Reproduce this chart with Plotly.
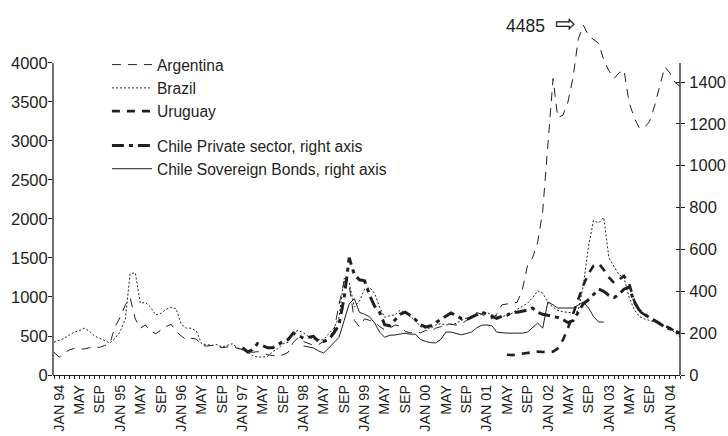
import plotly.graph_objects as go
import pandas as pd

# ---------------- data (monthly, bps) ----------------
main_start = "1993-12-01"
argentina = [290, 230, 280, 320, 340, 330, 335, 350, 355, 355, 380, 410, 620,
             740, 900, 990, 720, 600, 640, 560, 530, 580, 620, 650, 560,
             500, 450, 470, 460, 380, 370, 380, 370, 350, 360, 370, 340,
             330, 300, 290, 300, 280, 260, 250, 245, 260, 290, 420, 480,
             430, 400, 380, 390, 430, 500, 560, 900, 1200, 1150, 700, 620,
             720, 700, 680, 620, 580, 600, 640, 630, 560, 540, 560, 540,
             570, 560, 600, 620, 660, 650, 640, 650, 700, 760, 800, 780,
             740, 720, 780, 900, 910, 920, 930, 1090, 1400, 1500, 1700, 2100,
             2900, 3800, 3300, 3330, 3500, 3820, 4300, 4485, 4350, 4300, 4250, 4040,
             3900, 3800, 3870, 3910, 3500, 3300, 3170, 3170, 3250, 3450, 3700, 3950,
             3870, 3750, 3700]
brazil = [420, 440, 470, 510, 550, 570, 600, 560, 500, 470, 440, 410, 470,
          560, 720, 1300, 1310, 920, 930, 870, 770, 790, 840, 870, 850,
          650, 600, 600, 560, 400, 390, 380, 390, 360, 380, 400, 350,
          320, 290, 250, 230, 230, 240, 300, 340, 400, 420, 550, 570,
          540, 490, 460, 450, 450, 530, 600, 740, 1240, 1190, 870, 950,
          1100, 1120, 1050, 870, 740, 760, 770, 830, 800, 750, 700, 620,
          600, 600, 640, 660, 640, 650, 660, 700, 730, 740, 760, 770,
          800, 770, 760, 745, 770, 790, 840, 880, 920, 990, 1080, 1050,
          930, 870, 830, 810, 800, 795, 820, 1150, 1650, 1980, 1950, 2020,
          1500, 1380, 1290, 1250, 1000, 840, 750, 720, 700, 690, 660, 620,
          600, 540, 490]
uruguay_start = "2001-05-01"
uruguay = [260, 255, 265, 275, 290, 295, 300, 295, 295, 300, 340, 450, 600,
           780, 950, 1150, 1300, 1400, 1430, 1350, 1250, 1180, 1220, 1270, 1180,
           950, 820, 770, 730, 700, 660, 630, 600, 560, 520]
chile_private_start = "1997-01-01"
chile_private = [130, 110, 120, 150, 140, 130, 130, 145, 160, 170,
                 200, 190, 175, 180, 185, 160, 160, 170, 200, 240,
                 370, 560, 480, 455, 450, 380, 330, 300, 240, 235,
                 260, 290, 300, 285, 265, 240, 230, 235, 250, 265,
                 280, 296, 285, 270, 265, 277, 290, 300, 290, 280,
                 270, 280, 285, 300, 300, 305, 310, 320, 300, 290,
                 285, 280, 275, 265, 250, 260, 300, 340, 360, 385,
                 410, 400, 380, 370, 385, 410, 420, 350, 310, 290,
                 275, 260, 245, 230, 220, 210, 200]
chile_sov_start = "1998-01-01"
chile_sov = [139, 135, 129, 115, 105, 129, 153, 180, 260, 340, 365, 300,
             290, 277, 250, 205, 180, 190, 191, 195, 200, 195, 195, 170,
             160, 155, 153, 170, 205, 205, 198, 192, 198, 205, 225, 238,
             239, 235, 205, 201, 200, 200, 200, 200, 205, 225, 248, 224,
             349, 335, 320, 320, 320, 320, 334, 349, 320, 280, 253, 253]

left_ticks = [0, 500, 1000, 1500, 2000, 2500, 3000, 3500, 4000]
right_ticks = [0, 200, 400, 600, 800, 1000, 1200, 1400]
peak_value_text = "4485"


def months(start, n):
    return pd.date_range(start, periods=n, freq="MS")


INK = "#231f20"
FONT = "Liberation Sans, Arial, Helvetica, sans-serif"
LEFT_RANGE = [0, 4679]
RIGHT_RANGE = [0, 1744]

fig = go.Figure()
fig.add_trace(go.Scatter(x=months(main_start, len(argentina)), y=argentina, name="Argentina",
                         mode="lines", line=dict(color=INK, width=1, dash="9px,7px"),
                         legendgroup="a"))
fig.add_trace(go.Scatter(x=months(main_start, len(brazil)), y=brazil, name="Brazil",
                         mode="lines", line=dict(color=INK, width=1, dash="2px,2px"),
                         legendgroup="a"))
fig.add_trace(go.Scatter(x=months(uruguay_start, len(uruguay)), y=uruguay, name="Uruguay",
                         mode="lines", line=dict(color=INK, width=2.6, dash="8px,7px"),
                         legendgroup="a"))
fig.add_trace(go.Scatter(x=months(chile_private_start, len(chile_private)), y=chile_private,
                         name="Chile Private sector, right axis", yaxis="y2",
                         mode="lines", line=dict(color=INK, width=3, dash="12px,5px,4px,5px"),
                         legendgroup="b"))
fig.add_trace(go.Scatter(x=months(chile_sov_start, len(chile_sov)), y=chile_sov,
                         name="Chile Sovereign Bonds, right axis", yaxis="y2",
                         mode="lines", line=dict(color=INK, width=1),
                         legendgroup="b"))
# empty helper traces: inner half of crossing right ticks, and full-length left ticks
fig.add_trace(go.Scatter(x=[], y=[], yaxis="y3", showlegend=False, hoverinfo="skip"))
fig.add_trace(go.Scatter(x=[], y=[], yaxis="y4", showlegend=False, hoverinfo="skip"))

# x tick labels
tick_dates = pd.date_range("1994-01-01", "2004-01-01", freq="4MS")
tick_text = [("JAN %02d" % (d.year % 100)) if d.month == 1 else d.strftime("%b").upper()
             for d in tick_dates]

peak_idx = argentina.index(max(argentina))
peak_date = months(main_start, len(argentina))[peak_idx]

fig.add_annotation(x=peak_date, y=max(argentina),
                   text=peak_value_text + "  <span style='font-size:25px'>⇨</span>",
                   showarrow=False, xanchor="right", yanchor="middle", xshift=-5, yshift=2,
                   font=dict(family=FONT, size=17.5, color=INK))

# axis lines that stop at 4000
fig.add_shape(type="line", xref="paper", yref="y", x0=0, x1=0, y0=0, y1=4000,
              line=dict(color=INK, width=1.3))
fig.add_shape(type="line", xref="paper", yref="y", x0=1, x1=1, y0=0, y1=4000,
              line=dict(color=INK, width=1.3))

fig.update_layout(
    width=728, height=436,
    margin=dict(l=53, r=48, t=10, b=61),
    paper_bgcolor="white", plot_bgcolor="white",
    font=dict(family=FONT, size=15.6, color=INK),
    showlegend=True,
    legend=dict(x=0.086, y=0.896, xanchor="left", yanchor="top", itemwidth=40,
                bgcolor="rgba(0,0,0,0)", traceorder="grouped", tracegroupgap=11,
                font=dict(family=FONT, size=15.6, color=INK)),
    xaxis=dict(type="date", range=["1993-11-25", "2004-03-01"],
               tickvals=tick_dates, ticktext=tick_text, tickangle=-90,
               showgrid=False, zeroline=False, showline=True, linecolor=INK, linewidth=1.3,
               ticks="outside", ticklen=3, tickcolor=INK, automargin=False,
               minor=dict(dtick="M1", tick0="1994-01-01", ticks="outside", ticklen=3, tickcolor=INK),
               tickfont=dict(size=14.3)),
    yaxis=dict(range=LEFT_RANGE, tickvals=left_ticks, showgrid=False, zeroline=False,
               showline=False, ticks="outside", ticklen=1, tickcolor=INK, automargin=False,
               ticklabelstandoff=0, tickfont=dict(size=16.5)),
    yaxis4=dict(range=LEFT_RANGE, tickvals=left_ticks, overlaying="y", side="left",
                showgrid=False, zeroline=False, showline=False, ticks="outside",
                ticklen=4, tickcolor=INK, automargin=False, showticklabels=False),
    yaxis2=dict(range=RIGHT_RANGE, tickvals=right_ticks, overlaying="y", side="right",
                showgrid=False, zeroline=False, showline=False, ticks="outside",
                ticklen=4, tickcolor=INK, automargin=False, ticklabelstandoff=1,
                tickfont=dict(size=16.5)),
    yaxis3=dict(range=RIGHT_RANGE, tickvals=right_ticks, overlaying="y", side="right",
                showgrid=False, zeroline=False, showline=False, ticks="inside",
                ticklen=4, tickcolor=INK, automargin=False, showticklabels=False),
)

# remove the default 8px page margin so the 728x436 figure fills the window exactly
fig.write_html("out.html", post_script="document.body.style.margin='0';",
               config={"displayModeBar": False})
